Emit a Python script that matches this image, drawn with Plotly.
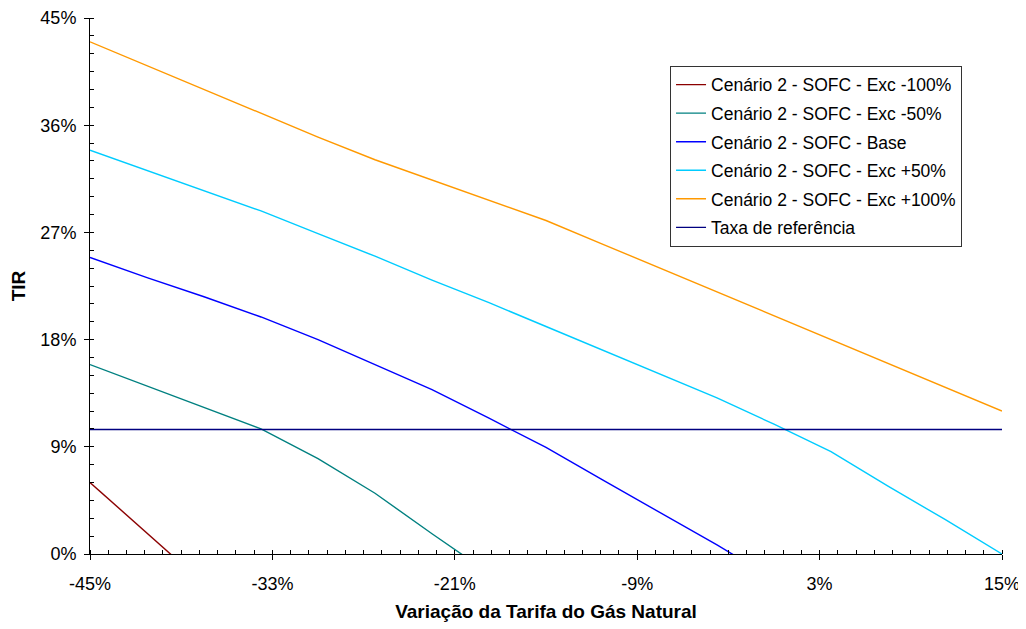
import plotly.graph_objects as go

# Natural gas tariff variation (%), data points every 3.75 %
variacao = [-45, -41.25, -37.5, -33.75, -30, -26.25, -22.5, -18.75, -15,
            -11.25, -7.5, -3.75, 0, 3.75, 7.5, 11.25, 15]

# TIR (%) per scenario (values below 0 are clipped by the axis, as in the original)
exc_m100 = [6.0, 1.7, -2.5]
exc_m50 = [15.9, 14.1, 12.3, 10.5, 8.0, 5.1, 1.7, -1.6]
base = [24.9, 23.2, 21.6, 19.9, 18.0, 15.9, 13.8, 11.4, 8.95, 6.2, 3.5, 0.76, -2.1]
exc_p50 = [33.9, 32.2, 30.5, 28.8, 26.9, 25.0, 23.0, 21.1, 19.1, 17.1, 15.1,
           13.1, 10.9, 8.6, 5.7, 2.9, 0.0]
exc_p100 = [43.0, 41.0, 39.0, 37.0, 35.0, 33.1, 31.4, 29.7, 28.0, 26.0, 24.0,
            22.0, 20.0, 18.0, 16.0, 14.0, 12.0]
taxa_ref = [10.45] * len(variacao)

names = ["Cenário 2 - SOFC - Exc -100%", "Cenário 2 - SOFC - Exc -50%",
         "Cenário 2 - SOFC - Base", "Cenário 2 - SOFC - Exc +50%",
         "Cenário 2 - SOFC - Exc +100%", "Taxa de referência"]
series = [exc_m100, exc_m50, base, exc_p50, exc_p100, taxa_ref]
colors = ["#8B0000", "#008080", "#0000FF", "#00CCFF", "#FF9900", "#000080"]

x_ticks = [-45, -33, -21, -9, 3, 15]
y_ticks = [0, 9, 18, 27, 36, 45]

fig = go.Figure()
for i, (name, ys, c) in enumerate(zip(names, series, colors)):
    fig.add_trace(go.Scatter(
        x=variacao[:len(ys)], y=ys, mode="lines", name=name,
        legendgroup=f"g{i}",
        line=dict(color=c, width=1.4),
    ))

font_family = "Liberation Sans, Arial, sans-serif"

# The page body has an 8px margin, so the figure is sized/offset to compensate
fig.update_layout(
    width=1018, height=621,
    margin=dict(l=82, r=24, t=10, b=75),
    paper_bgcolor="white", plot_bgcolor="white",
    font=dict(family=font_family, size=18, color="black"),
    showlegend=True,
    legend=dict(
        x=0.636, y=0.911, xanchor="left", yanchor="top",
        bgcolor="white", bordercolor="#333333", borderwidth=1,
        font=dict(size=17.5, color="black"),
        itemwidth=30, tracegroupgap=2.8,
    ),
    xaxis=dict(
        range=[-45, 15], tickvals=x_ticks,
        ticktext=[f"{v}%" for v in x_ticks],
        showgrid=False, zeroline=False, automargin=False,
        showline=True, linecolor="black", linewidth=1,
        ticks="outside", ticklen=5, tickcolor="black",
        ticklabelstandoff=8,
        minor=dict(dtick=1.2, tick0=-45, ticks="inside", ticklen=4,
                   tickcolor="black", showgrid=False),
        title=dict(text="<b>Variação da Tarifa do Gás Natural</b>",
                   font=dict(size=19), standoff=12),
        tickfont=dict(size=18),
    ),
    yaxis=dict(
        range=[0, 45], tickvals=y_ticks,
        ticktext=[f"{v}%" for v in y_ticks],
        showgrid=False, zeroline=False, automargin=False,
        showline=True, linecolor="black", linewidth=1,
        ticks="outside", ticklen=5, tickcolor="black",
        ticklabelstandoff=4,
        minor=dict(dtick=1.5, tick0=0, ticks="inside", ticklen=4,
                   tickcolor="black", showgrid=False),
        title=dict(text="<b>TIR</b>", font=dict(size=19), standoff=12),
        tickfont=dict(size=18),
    ),
)

fig.write_html("out.html")
